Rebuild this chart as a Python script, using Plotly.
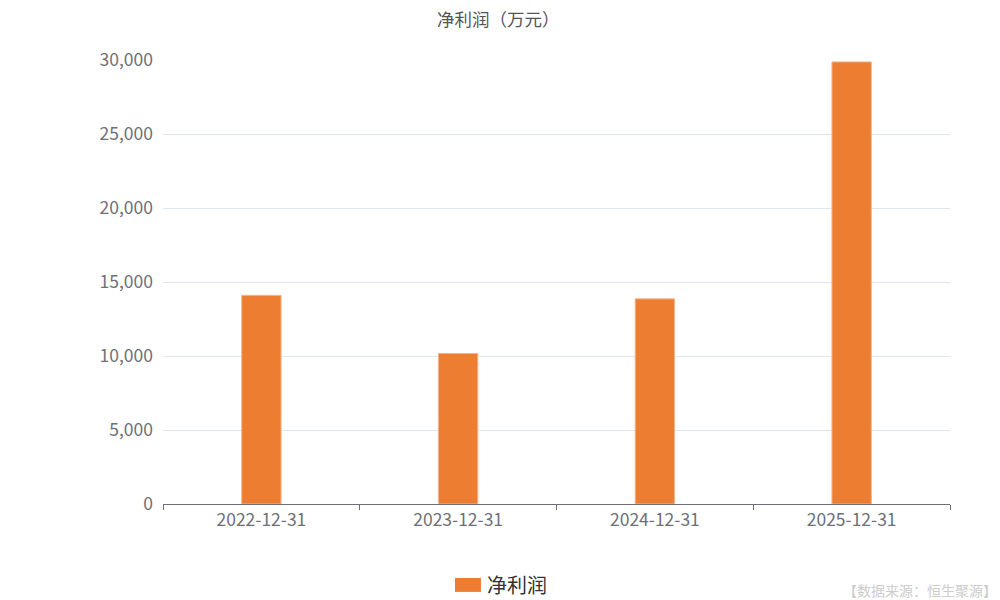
import plotly.graph_objects as go

categories = ["2022-12-31", "2023-12-31", "2024-12-31", "2025-12-31"]
net_profit = [14100, 10170, 13860, 29870]
series_name = "净利润"
title_text = "净利润（万元）"
source_text = "【数据来源：恒生聚源】"

FONT = "Noto Sans CJK SC"
BAR_COLOR = "#ED7D31"

fig = go.Figure()
fig.add_trace(go.Bar(
    x=categories, y=net_profit, name=series_name,
    marker=dict(color=BAR_COLOR, line=dict(color="#F5B58A", width=1)),
    width=0.2, showlegend=False,
))

# custom legend (rounded swatch + label)
fig.add_shape(type="rect", xref="paper", yref="paper",
              x0=0.371, x1=0.404, y0=-0.198, y1=-0.1667,
              fillcolor=BAR_COLOR, line=dict(width=0), layer="above")

# page body has an 8px margin, so the figure is sized/offset to compensate
fig.update_layout(
    width=992, height=592,
    paper_bgcolor="white", plot_bgcolor="white",
    margin=dict(l=155, r=50, t=52, b=96, autoexpand=False),
    font=dict(family=FONT, color="#666666", size=17.5),
    title=dict(text=title_text, x=0.426, xanchor="center", y=0.980, yanchor="middle",
               xref="paper", font=dict(family=FONT, size=17.5, color="#555555")),
    xaxis=dict(
        type="category", showgrid=False, showline=True, linecolor="#6E7079", linewidth=1,
        ticks="outside", tickson="boundaries", ticklen=5, tickcolor="#6E7079",
        tickfont=dict(family=FONT, size=17.5, color="#6E7079"),
    ),
    yaxis=dict(
        range=[0, 30000], dtick=5000, tickformat=",", showgrid=True, gridcolor="#E0E6F1",
        zeroline=False, showline=False, ticks="", ticklabelstandoff=9,
        tickfont=dict(family=FONT, size=17.5, color="#6E7079"),
    ),
    annotations=[
        dict(text=series_name, xref="paper", yref="paper", x=0.409, y=-0.182,
             xanchor="left", yanchor="middle", showarrow=False,
             font=dict(family=FONT, size=20, color="#333333")),
        dict(text=source_text, xref="paper", yref="paper", x=1.062, y=-0.194,
             xanchor="right", yanchor="middle", showarrow=False,
             font=dict(family=FONT, size=14, color="#CCCCCC")),
    ],
)

fig.write_html("out.html")
